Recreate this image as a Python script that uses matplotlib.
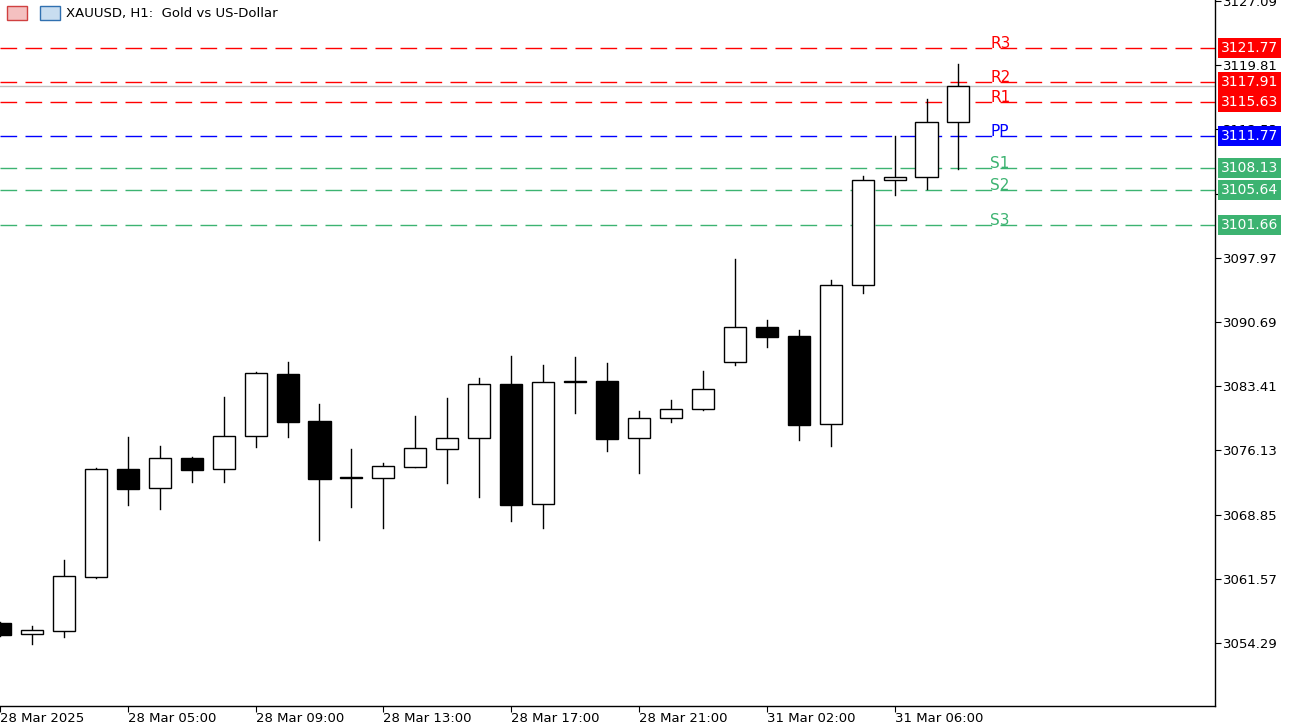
import matplotlib
matplotlib.use("Agg")
import matplotlib.pyplot as plt
from matplotlib.patches import Rectangle

# hourly candles, 28 Mar 01:00 .. 23:00 and 31 Mar 01:00 .. 08:00
opens = [3056.56, 3055.28, 3055.68, 3061.81, 3074.02, 3071.83, 3075.23, 3073.99, 3077.73, 3084.79,
         3079.47, 3073.05, 3073.03, 3074.28, 3076.32, 3077.50, 3083.63, 3070.00, 3083.95, 3083.97,
         3077.50, 3079.77, 3080.79, 3086.19, 3090.09, 3089.07, 3079.10, 3094.90, 3106.76, 3107.13,
         3113.37]
highs = [3056.70, 3056.22, 3063.70, 3074.10, 3077.60, 3076.60, 3075.40, 3082.20, 3085.00, 3086.10,
         3081.40, 3076.30, 3074.70, 3080.00, 3082.10, 3084.30, 3086.80, 3085.80, 3086.70, 3086.04,
         3080.60, 3081.90, 3085.10, 3097.84, 3090.90, 3089.80, 3095.45, 3107.25, 3111.75, 3115.95,
         3119.95]
lows = [3055.10, 3054.18, 3055.00, 3061.70, 3069.94, 3069.50, 3072.60, 3072.60, 3076.50, 3077.60,
        3065.97, 3069.75, 3067.37, 3074.20, 3072.47, 3070.90, 3068.16, 3067.37, 3080.40, 3076.10,
        3073.60, 3079.40, 3080.70, 3085.82, 3087.90, 3077.30, 3076.60, 3093.95, 3105.10, 3105.80,
        3108.05]
closes = [3055.20, 3055.73, 3061.85, 3073.99, 3071.79, 3075.23, 3073.94, 3077.73, 3084.87, 3079.39,
          3072.92, 3073.00, 3074.32, 3076.37, 3077.50, 3083.63, 3069.97, 3083.85, 3083.90, 3077.46,
          3079.77, 3080.79, 3083.06, 3090.09, 3089.03, 3079.05, 3094.85, 3106.76, 3107.10, 3113.37,
          3117.42]

tick_idx = [0, 4, 8, 12, 16, 20, 24, 28]
tick_labels = ["28 Mar 2025", "28 Mar 05:00", "28 Mar 09:00", "28 Mar 13:00",
               "28 Mar 17:00", "28 Mar 21:00", "31 Mar 02:00", "31 Mar 06:00"]
price_ticks = [3054.29, 3061.57, 3068.85, 3076.13, 3083.41, 3090.69, 3097.97,
               3105.25, 3112.53, 3119.81, 3127.09]

level_names = ["R3", "R2", "R1", "PP", "S1", "S2", "S3"]
level_values = [3121.77, 3117.91, 3115.63, 3111.77, 3108.13, 3105.64, 3101.66]
level_colors = ["#FF0000", "#FF0000", "#FF0000", "#0000FF", "#3CB371", "#3CB371", "#3CB371"]
last_price = 3117.42

W, H = 1294, 724
fig = plt.figure(figsize=(W / 100, H / 100), dpi=100)
ax = fig.add_axes([0, 18 / H, 1215 / W, 706 / H])
ax.set_xlim(0.0625, 38.03)
ax.set_ylim(3047.15, 3127.20)

bw = 0.69
for i, (o, h, l, c) in enumerate(zip(opens, highs, lows, closes)):
    ax.plot([i, i], [l, h], color="black", lw=1, zorder=3)
    fc = "white" if c >= o else "black"
    lo, hi = min(o, c), max(o, c)
    ax.add_patch(Rectangle((i - bw / 2, lo), bw, max(hi - lo, 0.08),
                           facecolor=fc, edgecolor="black", lw=1, zorder=4))

ax.axhline(last_price, color="#C0C0C0", lw=1, zorder=2)

for name, val, col in zip(level_names, level_values, level_colors):
    ax.axhline(val, color=col, lw=1, dashes=(12, 6), zorder=2)
    ax.text(31.0, val - 0.35, name, color=col, fontsize=11, va="bottom", ha="left", zorder=5)
    ax.annotate(f"{val:.2f}", xy=(1.0, val), xycoords=("axes fraction", "data"),
                xytext=(4, 0), textcoords="offset points", va="center", ha="left",
                color="white", fontsize=10, annotation_clip=False, zorder=10,
                bbox=dict(boxstyle="square,pad=0.22", fc=col, ec="none"))

for spine in ["top", "left"]:
    ax.spines[spine].set_visible(False)
ax.spines["right"].set_linewidth(1)
ax.spines["bottom"].set_linewidth(1)
ax.yaxis.tick_right()
ax.set_yticks(price_ticks)
ax.set_yticklabels([f"{p:.2f}" for p in price_ticks], fontsize=9.5)
ax.tick_params(axis="y", length=4, pad=2, direction="out")
ax.set_xticks(tick_idx)
ax.set_xticklabels(tick_labels, fontsize=9.5, ha="left")
ax.tick_params(axis="x", length=4, pad=0)

fig.text(66 / W, 1 - 13 / H, "XAUUSD, H1:  Gold vs US-Dollar", fontsize=9.5, va="center")
fig.patches.append(Rectangle((7 / W, 1 - 20 / H), 20 / W, 14 / H, transform=fig.transFigure,
                             fc="#F4C0C0", ec="#D04040", lw=1))
fig.patches.append(Rectangle((40 / W, 1 - 20 / H), 20 / W, 14 / H, transform=fig.transFigure,
                             fc="#C8DDF0", ec="#3070B0", lw=1))

fig.savefig("out.png", dpi=100)
